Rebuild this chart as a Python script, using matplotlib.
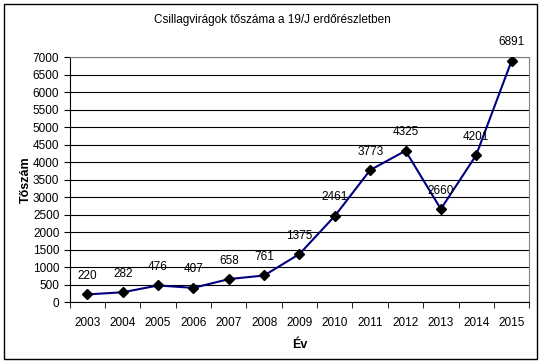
import matplotlib.pyplot as plt
from matplotlib.patches import Rectangle

years = ['2003', '2004', '2005', '2006', '2007', '2008', '2009',
         '2010', '2011', '2012', '2013', '2014', '2015']
counts = [220, 282, 476, 407, 658, 761, 1375, 2461, 3773, 4325, 2660, 4201, 6891]

fig = plt.figure(figsize=(5.45, 3.64), dpi=100)
ax = fig.add_axes([0.128, 0.170, 0.843, 0.673])

# outer frame of the chart area
fig.patches.append(Rectangle((4 / 545, 1 - 359 / 364), 533 / 545, 355 / 364,
                             transform=fig.transFigure, fill=False,
                             edgecolor='black', linewidth=1))

x = list(range(len(years)))
ax.plot(x, counts, color='#000080', linewidth=1.5, marker='D',
        markersize=5, markerfacecolor='black', markeredgecolor='black', zorder=3)
for xi, v in zip(x, counts):
    ax.annotate(str(v), (xi, v), xytext=(0, 9), textcoords='offset points',
                ha='center', va='bottom', fontsize=8.5, family='Liberation Sans')

ax.set_xlim(-0.5, len(years) - 0.5)
ax.set_ylim(0, 7000)
ax.set_yticks(range(0, 7001, 500))
ax.set_xticks(x)
ax.set_xticklabels(years)
ax.set_xticks([i - 0.5 for i in range(len(years) + 1)], minor=True)
ax.tick_params(axis='x', which='major', length=0, pad=11)
ax.tick_params(axis='x', which='minor', length=4, direction='out', color='black')
ax.tick_params(axis='y', length=4, direction='out', color='black')
for lbl in ax.get_xticklabels() + ax.get_yticklabels():
    lbl.set_family('Liberation Sans')
    lbl.set_fontsize(8.5)

ax.grid(axis='y', color='black', linewidth=0.8)
ax.set_axisbelow(True)
ax.spines['left'].set_color('black')
ax.spines['bottom'].set_color('black')
ax.spines['top'].set_color('#808080')
ax.spines['right'].set_color('#808080')

ax.set_xlabel('Év', fontsize=9, fontweight='bold', family='Liberation Sans', labelpad=7)
ax.set_ylabel('Tőszám', fontsize=9, fontweight='bold', family='Liberation Sans', labelpad=1)
fig.text(0.5, 1 - 20 / 364, 'Csillagvirágok tőszáma a 19/J erdőrészletben',
         ha='center', va='center', fontsize=8.5, family='Liberation Sans')

fig.savefig('out.png', dpi=100)
